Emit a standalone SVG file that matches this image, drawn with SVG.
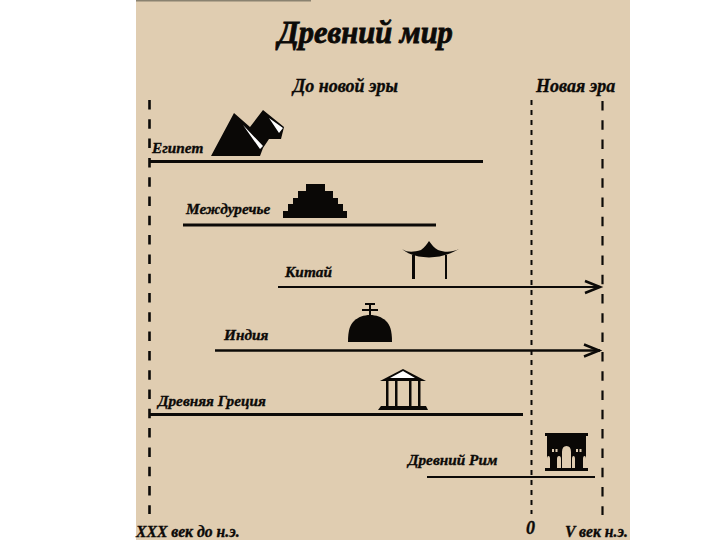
<svg xmlns="http://www.w3.org/2000/svg" width="720" height="540" viewBox="0 0 720 540">
<style>
text{font-family:"Liberation Serif","DejaVu Serif",serif;font-weight:bold;font-style:italic;fill:#0c0a08;stroke:#0c0a08}
.s{font-size:15.300px;stroke-width:.35px}
.b{font-size:15.700px;stroke-width:.35px}
.h{font-size:18px;stroke-width:.35px}
.t{font-size:30.500px;stroke-width:.8px}
.l{stroke:#0c0a08;fill:none;stroke-width:3}
.n{stroke:#0c0a08;fill:none;stroke-width:2}
.k{fill:#0a0806}
.g{fill:#e0cdb1}
</style>
<defs><marker id="a" markerUnits="userSpaceOnUse" markerWidth="20" markerHeight="16" refX="17" refY="8" orient="auto"><path d="M1 2L16 8L1 14" fill="none" stroke="#0c0a08" stroke-width="2.500"/></marker></defs>
<rect width="720" height="540" fill="#fff"/>
<rect x="136" y="0" width="494" height="540" fill="#e0cdb1"/>
<rect x="136" y="0" width="175" height="1.500" fill="#8a8270"/>
<g id="connectors">
<path class="n" stroke-dasharray="9.500 9.800" d="M149.500 100V514" style="stroke-width:2.600"/>
<path class="n" stroke-dasharray="5 5" d="M531.500 100V514"/>
<path class="n" stroke-dasharray="9.500 9.800" d="M602.500 101V515" style="stroke-width:2.200"/>
<path class="l" d="M150 161.500H483"/>
<path class="l" d="M183 225H436"/>
<path class="n" d="M278 287H601" marker-end="url(#a)"/>
<path class="n" d="M215 350.500H600" style="stroke-width:2.600" marker-end="url(#a)"/>
<path class="l" d="M150 414.500H523"/>
<path class="n" d="M427 477H595"/>
</g>
<g id="title"><text class="t" x="278" y="43">Древний мир</text></g>
<g id="era-bc"><text class="h" x="293" y="92">До новой эры</text></g>
<g id="era-ad"><text class="h" x="536" y="92">Новая эра</text></g>
<g id="egypt"><text class="s" x="152" y="153">Египет</text>
<path class="k" d="M211 156L234 113L250 127L263 110L284 127L281 139L269 139L263 148L260 156Z"/>
<path fill="#fff" d="M243 125L263 146L260 149L250 135ZM269 118L283 128L279 133Z"/></g>
<g id="mesopotamia"><text class="s" x="186" y="214">Междуречье</text>
<path class="k" d="M283 218V211H288V204H293V198H298V191H306V184H325V191H333V198H338V204H343V211H347V218Z"/></g>
<g id="china"><text class="s" x="285" y="277">Китай</text>
<path class="k" d="M402 249C408 253 414 252 421 250C425 247 427 244 429 241C432 245 434 248 438 250C446 253 452 252 459 249C450 254 442 257 429 257.500C416 257 408 254 402 249Z"/>
<path class="k" d="M412 255h3v24h-3zM445 255h2v24h-2z"/></g>
<g id="india"><text class="s" x="224" y="340">Индия</text>
<path class="k" d="M348 342C348 330 350 325 354 321C358 317 364 315 370 315C376 315 382 317 386 321C390 325 392 330 392 342Z"/>
<path class="k" d="M369 303h2v13h-2zM365 303h10v2h-10zM362 309h16v2h-16z"/></g>
<g id="greece"><text class="s" x="158" y="406">Древняя Греция</text>
<path class="k" d="M380 381L403 369L426 381Z"/>
<path fill="#fff" d="M390 378L403 371L415 378Z"/>
<path class="k" d="M386 381h2.500v26h-2.500zM395 381h2.500v26h-2.500zM409 381h2.500v26h-2.500zM418 381h2.500v26h-2.500z"/>
<path class="k" d="M381 406H426L428 410H378Z"/></g>
<g id="rome"><text class="s" x="408" y="465">Древний Рим</text>
<path class="k" d="M545 433H588V436H586V468H588V471H545V468H547V436H545Z"/>
<path class="g" d="M562 468V452Q562 446 566.500 446Q571 446 571 452V468ZM557 468V459Q557 456 559 456Q561 456 561 459V468ZM572 468V459Q572 456 573.500 456Q575 456 575 459V468ZM547 468V459Q547 456 548.500 456Q550 456 550 459V468ZM583 468V459Q583 456 584.500 456Q586 456 586 459V468Z"/>
<path class="g" d="M552 449h2v3h-2zM555.500 449h2v3h-2zM576 449h2v3h-2zM579.500 449h2v3h-2z"/></g>
<g id="axis-labels"><text class="b" x="136" y="537">XXX век до н.э.</text>
<text class="h" x="526" y="534">0</text>
<text class="b" x="565" y="537">V век н.э.</text></g>
</svg>
